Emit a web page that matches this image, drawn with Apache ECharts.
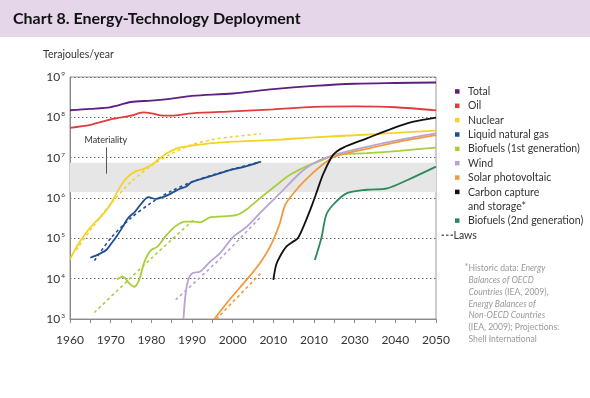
<!DOCTYPE html>
<html>
<head>
<meta charset="utf-8">
<script src="https://cdn.jsdelivr.net/npm/echarts@6/dist/echarts.min.js"></script>
<style>
  html, body { margin: 0; padding: 0; background: #fff; }
  #chart { width: 590px; height: 398px; }
</style>
</head>
<body>
<div id="chart"></div>
<script>
// Tick labels (the original prints "2010" twice)
const xTickLabels = ['1960', '1970', '1980', '1990', '2000', '2010', '2010', '2030', '2040', '2050'];

// Historic + projected deployment, terajoules/year  [year, value]
const totalData = [[1960, 1.5e8], [1965, 1.62e8], [1970, 1.8e8], [1975, 2.4e8], [1980, 2.6e8], [1985, 2.9e8],
  [1990, 3.4e8], [2000, 3.9e8], [2010, 5.0e8], [2020, 6.0e8], [2030, 6.8e8], [2040, 7.1e8], [2050, 7.3e8]];
const oilData = [[1960, 5.5e7], [1965, 6.5e7], [1970, 8.9e7], [1975, 1.1e8], [1978, 1.32e8], [1980, 1.26e8],
  [1983, 1.1e8], [1986, 1.12e8], [1990, 1.26e8], [2000, 1.41e8], [2010, 1.58e8], [2020, 1.82e8],
  [2030, 1.86e8], [2040, 1.78e8], [2050, 1.48e8]];
const nuclearData = [[1960, 3.0e4], [1962, 7.1e4], [1964, 1.4e5], [1966, 2.4e5], [1968, 3.8e5], [1970, 7.1e5],
  [1972, 1.66e6], [1974, 3.2e6], [1976, 4.5e6], [1978, 5.2e6], [1980, 6.6e6], [1982, 9.5e6], [1984, 1.32e7],
  [1986, 1.66e7], [1988, 1.86e7], [1990, 2.0e7], [1995, 2.3e7], [2000, 2.5e7], [2010, 2.75e7], [2020, 3.2e7],
  [2030, 3.6e7], [2040, 4.1e7], [2050, 4.7e7]];
const lngData = [[1965, 3.3e4], [1967, 4.0e4], [1969, 5.2e4], [1970, 7.1e4], [1971.4, 1.1e5], [1973, 1.95e5],
  [1974.3, 3.2e5], [1976, 4.6e5], [1977.6, 7.4e5], [1979.3, 1.05e6], [1981, 9.5e5], [1983.4, 1.1e6],
  [1985, 1.32e6], [1987, 1.7e6], [1988.5, 1.9e6], [1990, 2.5e6], [1995, 3.6e6], [2000, 5.1e6],
  [2003, 6.0e6], [2006.7, 7.9e6]];
const bio1Data = [[1971.5, 9.5e3], [1973, 1.12e4], [1974.6, 7.6e3], [1975.8, 6.3e3], [1977, 9.3e3],
  [1978.3, 2.6e4], [1979.9, 5.1e4], [1981.5, 6.2e4], [1983.4, 1.1e5], [1985.8, 1.95e5], [1988.3, 2.6e5],
  [1990.3, 2.6e5], [1992, 2.5e5], [1994.4, 3.3e5], [1997.7, 3.5e5], [2001, 3.8e5], [2003.4, 5.2e5],
  [2006.7, 9.8e5], [2010.8, 2.1e6], [2014, 3.7e6], [2018, 6.0e6], [2022, 8.7e6], [2025.3, 1.17e7],
  [2033, 1.29e7], [2041, 1.48e7], [2050, 1.78e7]];
const windData = [[1987.9, 1.0e3], [1988.4, 4.0e3], [1989, 8.9e3], [1990, 1.35e4], [1992, 1.5e4],
  [1994.4, 2.6e4], [1996.9, 4.3e4], [2000.2, 1.1e5], [2003.5, 1.95e5], [2006.7, 4.2e5], [2011.6, 1.3e6],
  [2016.5, 4.1e6], [2019.8, 7.2e6], [2025, 1.17e7], [2033, 1.86e7], [2041, 2.75e7], [2050, 4.0e7]];
const solarData = [[1995.5, 1.0e3], [1999.2, 3.0e3], [2003.4, 9.3e3], [2006.7, 2.4e4], [2009.2, 6.2e4],
  [2011.5, 2.2e5], [2013, 7.0e5], [2016.5, 2.0e6], [2019.5, 4.0e6], [2022, 6.6e6], [2025, 1.05e7],
  [2033, 1.66e7], [2041, 2.5e7], [2050, 3.6e7]];
const ccsData = [[2010, 9.3e3], [2010.7, 2.2e4], [2011.6, 3.5e4], [2013.2, 6.2e4], [2014.9, 8.3e4],
  [2016, 1.0e5], [2017.4, 1.95e5], [2019.4, 6.2e5], [2020.5, 1.26e6], [2022.3, 4.0e6], [2024.7, 1.17e7],
  [2027.2, 1.78e7], [2033, 3.0e7], [2039.5, 5.4e7], [2044.5, 7.8e7], [2050, 9.8e7]];
const bio2Data = [[2020.2, 2.9e4], [2021.8, 1.0e5], [2023, 3.8e5], [2024.7, 6.8e5], [2028, 1.3e6],
  [2033, 1.6e6], [2038, 1.74e6], [2043, 2.8e6], [2050, 6.0e6]];

// "Laws" (dashed)
const nuclearLaw = [[1961.5, 5.1e4], [1965, 1.6e5], [1970, 7.1e5], [1975, 2.5e6], [1980, 6.3e6],
  [1985, 1.26e7], [1990, 2.1e7], [1995, 2.8e7], [2000, 3.3e7], [2007, 3.9e7]];
const lngLaw = [[1966, 2.8e4], [1970, 1.0e5], [1975, 3.2e5], [1980, 7.6e5], [1985, 1.5e6], [1990, 2.5e6],
  [1995, 3.7e6], [2000, 5.2e6], [2007, 7.9e6]];
const bio1Law = [[1966, 1.45e3], [1980, 3.2e4], [1990.3, 2.8e5]];
const windLaw = [[1986, 3.0e3], [1997, 3.2e4], [2007, 3.5e5]];
const solarLaw = [[1996, 1.0e3], [2007, 1.4e4]];

// Materiality band
const materialityRange = [1.4e6, 7.5e6];

const seriesNames = ['Total', 'Oil', 'Nuclear', 'Liquid natural gas', 'Biofuels (1st generation)', 'Wind',
  'Solar photovoltaic', 'Carbon capture\nand storage*', 'Biofuels (2nd generation)'];
const seriesColors = ['#5e1f7f', '#e03c3c', '#f4d22a', '#1f4f8f', '#a6cf3b', '#b9a2d6', '#f29a3c', '#111111', '#2a8a5a'];
const seriesData = [totalData, oilData, nuclearData, lngData, bio1Data, windData, solarData, ccsData, bio2Data];

const lawData = [nuclearLaw, lngLaw, bio1Law, windLaw, solarLaw];
const lawColors = ['#f4d22a', '#1f4f8f', '#a6cf3b', '#b9a2d6', '#f29a3c'];

const footLines = [
  '{n|Historic data: }{i|Energy}',
  '{i|Balances of OECD}',
  '{i|Countries }{n|(IEA, 2009),}',
  '{i|Energy Balances of}',
  '{i|Non-OECD Countries}',
  '{n|(IEA, 2009); Projections:}',
  '{n|Shell International}'
];

const FONT = 'Lato, "Open Sans", sans-serif';

const chart = echarts.init(document.getElementById('chart'), null, { renderer: 'canvas' });

const series = [];

// Fondo: banda de materialidad
series.push({
  type: 'line',
  name: 'band',
  data: [],
  z: 1,
  silent: true,
  markArea: {
    silent: true,
    itemStyle: { color: '#e6e6e6' },
    data: [[{ yAxis: materialityRange[0] }, { yAxis: materialityRange[1] }]]
  },
  markLine: {
    silent: true,
    symbol: 'none',
    lineStyle: { color: '#555', width: 1, type: 'solid' },
    label: {
      position: 'start',
      formatter: 'Materiality',
      fontFamily: FONT,
      fontSize: 9,
      color: '#333',
      distance: 3
    },
    data: [[{ coord: [1968.8, 1.8e7] }, { coord: [1968.8, 4.0e6] }]]
  }
});

seriesData.forEach(function(d, i) {
  series.push({
    type: 'line',
    name: seriesNames[i],
    data: d,
    z: 3,
    showSymbol: false,
    smooth: 0.3,
    lineStyle: { color: seriesColors[i], width: 1.8 },
    itemStyle: { color: seriesColors[i] }
  });
});

lawData.forEach(function(d, i) {
  series.push({
    type: 'line',
    name: 'Laws',
    data: d,
    z: 2,
    showSymbol: false,
    smooth: 0.3,
    lineStyle: { color: lawColors[i], width: 1.6, type: [3, 3] },
    itemStyle: { color: lawColors[i] }
  });
});

// Leyenda dibujada a mano (cuadros + texto)
const graphics = [
  { type: 'rect', left: 0, top: 0, shape: { width: 590, height: 37 }, style: { fill: '#e5d6ea' } },
  {
    type: 'text', left: 13, top: 11,
    style: { text: 'Chart 8. Energy-Technology Deployment', fontFamily: FONT, fontWeight: 'bold', fontSize: 16, fill: '#111' }
  },
  {
    type: 'text', left: 43, top: 49,
    style: { text: 'Terajoules/year', fontFamily: FONT, fontSize: 10.5, fill: '#333' }
  }
];

const rowH = 14.35;
let row = 0;
seriesNames.forEach(function(name, i) {
  const cy = 91.7 + rowH * row;
  graphics.push({ type: 'rect', shape: { x: 455, y: cy - 2.5, width: 4.5, height: 4.5 }, style: { fill: seriesColors[i] } });
  graphics.push({
    type: 'text', x: 468, y: cy - rowH / 2,
    style: { text: name, fontFamily: FONT, fontSize: 10.5, lineHeight: rowH, fill: '#333', verticalAlign: 'top' }
  });
  row += name.split('\n').length;
});
const lawY = 91.7 + rowH * row;
graphics.push({
  type: 'line', shape: { x1: 441.5, y1: lawY, x2: 453, y2: lawY },
  style: { stroke: '#666', lineWidth: 1.4, lineDash: [2.5, 2] }
});
graphics.push({
  type: 'text', x: 453.5, y: lawY,
  style: { text: 'Laws', fontFamily: FONT, fontSize: 10.5, fill: '#333', verticalAlign: 'middle' }
});

// Nota al pie
graphics.push({
  type: 'text', x: 464.5, y: 263,
  style: { text: '*', fontFamily: FONT, fontSize: 9, fill: '#9a9a9a' }
});
graphics.push({
  type: 'text', x: 468.5, y: 262.5,
  style: {
    text: footLines.join('\n'),
    fontFamily: FONT,
    fontSize: 8.6,
    lineHeight: 11.8,
    fill: '#9a9a9a',
    rich: {
      n: { fontFamily: FONT, fontSize: 8.6, lineHeight: 11.8, fill: '#9a9a9a' },
      i: { fontFamily: FONT, fontSize: 8.6, lineHeight: 11.8, fill: '#9a9a9a', fontStyle: 'italic' }
    }
  }
});

const option = {
  animation: false,
  backgroundColor: '#fff',
  grid: {
    left: 70, right: 154, top: 77, bottom: 79,
    show: true, borderColor: '#9a9a9a', borderWidth: 1, backgroundColor: 'transparent'
  },
  xAxis: {
    type: 'value',
    min: 1960,
    max: 2050,
    interval: 5,
    axisLine: { lineStyle: { color: '#8a8a8a', width: 1 } },
    axisTick: { show: true, length: 4, lineStyle: { color: '#8a8a8a' } },
    splitLine: { show: false },
    axisLabel: {
      fontFamily: FONT,
      fontSize: 12,
      color: '#333',
      margin: 15,
      formatter: function(v) {
        return v % 10 === 0 ? xTickLabels[(v - 1960) / 10] : '';
      }
    }
  },
  yAxis: {
    type: 'log',
    logBase: 10,
    min: 1e3,
    max: 1e9,
    axisLine: { show: true, lineStyle: { color: '#8a8a8a', width: 1 } },
    axisTick: { show: false },
    splitLine: { show: true, lineStyle: { color: '#666', type: [1.5, 2.5], width: 1 } },
    axisLabel: {
      margin: 5,
      formatter: function(v) {
        const e = Math.round(Math.log10(v));
        return '{b|10}{s|' + e + '}';
      },
      rich: {
        b: { fontFamily: FONT, fontSize: 12, color: '#333', lineHeight: 13 },
        s: { fontFamily: FONT, fontSize: 6.5, color: '#333', verticalAlign: 'top', lineHeight: 13, padding: [0, 0, 0, 1] }
      }
    }
  },
  graphic: graphics,
  series: series
};

chart.setOption(option);
</script>
</body>
</html>
